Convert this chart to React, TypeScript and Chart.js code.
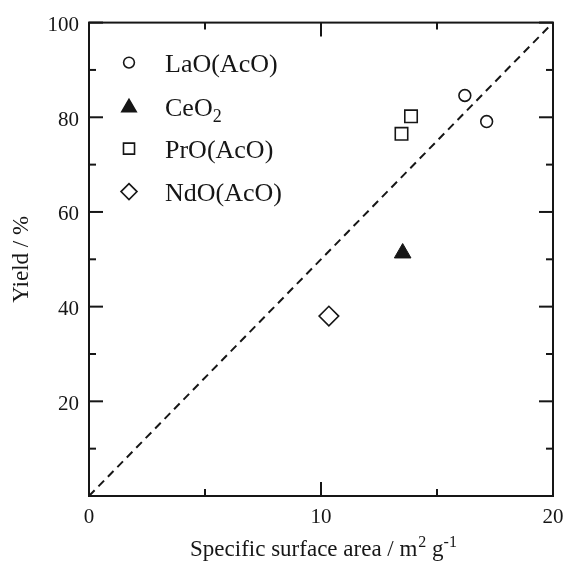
import React, { useEffect, useRef } from 'react';
import { Chart, registerables } from 'chart.js';

Chart.register(...registerables);

// ---- data ----
const seriesNames = ['LaO(AcO)', 'CeO', 'PrO(AcO)', 'NdO(AcO)'];
const laoX = [16.2, 17.14];
const laoY = [84.6, 79.1];
const ceoX = [13.52];
const ceoY = [51.3];
const proX = [13.88, 13.47];
const proY = [80.2, 76.5];
const ndoX = [10.34];
const ndoY = [38.0];
const refLineX = [0, 20];
const refLineY = [0, 100];

const xTickLabels = [0, 10, 20];
const yTickLabels = [20, 40, 60, 80, 100];
const xMinorStep = 5;
const yMinorStep = 10;

const INK = '#161616';
const FONT = "'Liberation Serif', 'Times New Roman', serif";

const pts = (xs: number[], ys: number[]) => xs.map((x, i) => ({ x, y: ys[i] }));

function markerPath(ctx: CanvasRenderingContext2D, style: string, x: number, y: number, r: number) {
  ctx.beginPath();
  if (style === 'circle') {
    ctx.arc(x, y, r, 0, Math.PI * 2);
  } else if (style === 'triangle') {
    for (let k = 0; k < 3; k++) {
      const a = (k * 2 * Math.PI) / 3;
      const px = x + Math.sin(a) * r;
      const py = y - Math.cos(a) * r;
      if (k === 0) ctx.moveTo(px, py);
      else ctx.lineTo(px, py);
    }
    ctx.closePath();
  } else if (style === 'rect') {
    const s = Math.SQRT1_2 * r;
    ctx.rect(x - s, y - s, 2 * s, 2 * s);
  } else if (style === 'rectRot') {
    ctx.moveTo(x, y - r);
    ctx.lineTo(x + r, y);
    ctx.lineTo(x, y + r);
    ctx.lineTo(x - r, y);
    ctx.closePath();
  }
}

const frameTicks = {
  id: 'frameTicks',
  afterDraw(chart: any) {
    const { ctx, chartArea: a, scales } = chart;
    const x = scales.x;
    const y = scales.y;
    ctx.save();
    ctx.strokeStyle = INK;
    ctx.lineWidth = 2;
    ctx.lineCap = 'butt';
    ctx.strokeRect(a.left, a.top, a.right - a.left, a.bottom - a.top);
    const line = (x1: number, y1: number, x2: number, y2: number) => {
      ctx.beginPath();
      ctx.moveTo(x1, y1);
      ctx.lineTo(x2, y2);
      ctx.stroke();
    };
    for (let v = x.min; v <= x.max + 1e-9; v += xMinorStep) {
      const px = x.getPixelForValue(v);
      const len = xTickLabels.includes(v) ? 14 : 7;
      line(px, a.bottom, px, a.bottom - len);
      line(px, a.top, px, a.top + len);
    }
    for (let v = y.min; v <= y.max + 1e-9; v += yMinorStep) {
      const py = y.getPixelForValue(v);
      const len = yTickLabels.includes(v) || v === 0 ? 14 : 7;
      line(a.left, py, a.left + len, py);
      line(a.right, py, a.right - len, py);
    }

    // legend
    const styles = ['circle', 'triangle', 'rect', 'rectRot'];
    const fills = ['#fff', INK, '#fff', '#fff'];
    const radii = [5.4, 8.3, 7.8, 8.0];
    const lx = a.left + 40;
    const tx = a.left + 76;
    const y0 = a.top + 40;
    const dy = 43;
    ctx.lineWidth = 1.6;
    ctx.lineJoin = 'miter';
    seriesNames.forEach((name, i) => {
      const cy = y0 + i * dy + (i === 1 ? 1 : 0);
      markerPath(ctx, styles[i], lx, cy + (styles[i] === 'triangle' ? 1 : 0), radii[i]);
      ctx.fillStyle = fills[i];
      ctx.fill();
      ctx.strokeStyle = INK;
      ctx.stroke();
      ctx.fillStyle = INK;
      ctx.font = `26px ${FONT}`;
      ctx.textAlign = 'left';
      ctx.textBaseline = 'alphabetic';
      ctx.fillText(name, tx, cy + 9);
      if (i === 1) {
        const w = ctx.measureText(name).width;
        ctx.font = `18px ${FONT}`;
        ctx.fillText('2', tx + w, cy + 15.5);
      }
    });

    // axis titles
    ctx.fillStyle = INK;
    ctx.textBaseline = 'alphabetic';
    const big = `23px ${FONT}`;
    const small = `16px ${FONT}`;
    const parts: [string, string, number][] = [
      ['Specific surface area / m', big, 0],
      ['2', small, -9],
      [' g', big, 0],
      ['-1', small, -9],
    ];
    let total = 0;
    const widths = parts.map(([t, f]) => {
      ctx.font = f;
      const w = ctx.measureText(t).width;
      total += w;
      return w;
    });
    let cx = (a.left + a.right) / 2 + 2 - total / 2;
    const base = 556;
    parts.forEach(([t, f, off], i) => {
      ctx.font = f;
      ctx.textAlign = 'left';
      ctx.fillText(t, cx + (i === 1 ? 1 : 0), base + off);
      cx += widths[i] + (i === 1 ? 1 : 0);
    });

    ctx.save();
    ctx.translate(22, (a.top + a.bottom) / 2);
    ctx.rotate(-Math.PI / 2);
    ctx.font = big;
    ctx.textAlign = 'center';
    ctx.textBaseline = 'middle';
    ctx.fillText('Yield / %', 0, 0);
    ctx.restore();

    ctx.restore();
  },
};

export default function App() {
  const ref = useRef<HTMLCanvasElement>(null);
  useEffect(() => {
    const chart = new Chart(ref.current as HTMLCanvasElement, {
      type: 'scatter',
      data: {
        datasets: [
          {
            label: seriesNames[0],
            data: pts(laoX, laoY),
            pointStyle: 'circle',
            pointRadius: 5.9,
            backgroundColor: '#fff',
            borderColor: INK,
            borderWidth: 1.6,
          },
          {
            label: 'CeO2',
            data: pts(ceoX, ceoY),
            pointStyle: 'triangle',
            pointRadius: 9.6,
            backgroundColor: INK,
            borderColor: INK,
            borderWidth: 1,
          },
          {
            label: seriesNames[2],
            data: pts(proX, proY),
            pointStyle: 'rect',
            pointRadius: 8.8,
            backgroundColor: '#fff',
            borderColor: INK,
            borderWidth: 1.6,
          },
          {
            label: seriesNames[3],
            data: pts(ndoX, ndoY),
            pointStyle: 'rectRot',
            pointRadius: 9.8,
            backgroundColor: '#fff',
            borderColor: INK,
            borderWidth: 1.6,
          },
          {
            label: 'y = 5x',
            data: pts(refLineX, refLineY),
            showLine: true,
            pointRadius: 0,
            borderColor: INK,
            borderWidth: 2,
            borderDash: [8, 5.5],
            fill: false,
          } as any,
        ],
      },
      options: {
        animation: false,
        responsive: false,
        devicePixelRatio: 1,
        layout: { padding: { top: 22, right: 20, left: 0, bottom: 0 } },
        plugins: { legend: { display: false }, tooltip: { enabled: false } },
        scales: {
          x: {
            type: 'linear',
            min: 0,
            max: 20,
            grid: { display: false, drawTicks: false },
            border: { display: false },
            ticks: {
              stepSize: 10,
              padding: 9,
              color: INK,
              font: { family: FONT, size: 21 },
              callback: (v: any) => (xTickLabels.includes(Number(v)) ? String(v) : ''),
            },
            afterFit: (s: any) => {
              s.height = 69;
            },
          },
          y: {
            type: 'linear',
            min: 0,
            max: 100,
            grid: { display: false, drawTicks: false },
            border: { display: false },
            ticks: {
              stepSize: 20,
              padding: 10,
              labelOffset: 3,
              color: INK,
              font: { family: FONT, size: 21 },
              callback: (v: any) => (yTickLabels.includes(Number(v)) ? String(v) : ''),
            },
            afterFit: (s: any) => {
              s.width = 89;
            },
          },
        },
      },
      plugins: [frameTicks],
    });
    return () => chart.destroy();
  }, []);
  return (
    <div style={{ position: 'absolute', left: 0, top: 0, width: 573, height: 565, background: '#fff' }}>
      <canvas ref={ref} width={573} height={565} style={{ display: 'block' }} />
    </div>
  );
}
